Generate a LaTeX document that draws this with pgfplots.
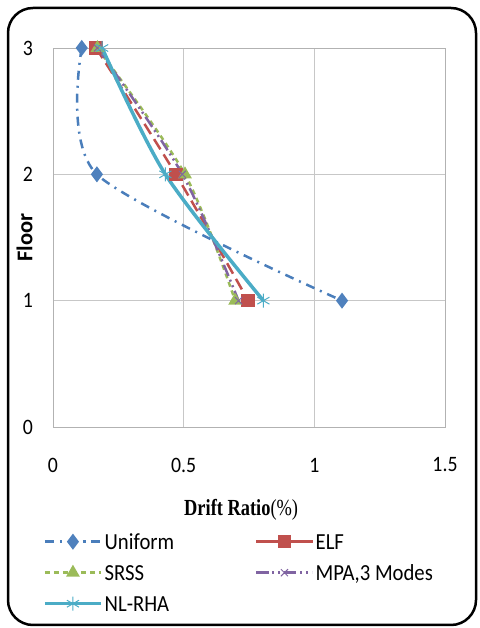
\documentclass[border=0pt]{standalone}
\usepackage{fontspec}
\usepackage{pgfplots}
\pgfplotsset{compat=1.18}
\setmainfont{Carlito}[FakeStretch=0.9]
\newfontfamily\floorfont{Carlito}
\newfontfamily\drfont{Liberation Serif}[FakeStretch=0.8]

\definecolor{cUni}{HTML}{4A7EBB}
\definecolor{cUniM}{HTML}{4F81BD}
\definecolor{cElf}{HTML}{C0504D}
\definecolor{cSrss}{HTML}{9BBB59}
\definecolor{cMpa}{HTML}{8064A2}
\definecolor{cNl}{HTML}{4BACC6}

\begin{document}
\begin{tikzpicture}
\useasboundingbox (0,0) rectangle (479pt,628pt);
\draw[line width=2.5pt, rounded corners=25pt] (8pt,3pt) rectangle (476pt,620pt);
\begin{axis}[
  at={(53pt,201pt)}, anchor=south west,
  scale only axis, width=392pt, height=379pt,
  xmin=0, xmax=1.5, ymin=0, ymax=3,
  xtick={0,0.5,1,1.5}, ytick={0,1,2,3},
  major tick length=0pt,
  grid=major,
  grid style={draw=black!22, line width=0.8pt},
  axis line style={draw=black!30, line width=0.8pt},
  clip=false,
  /pgf/number format/assume math mode=true,
  tick label style={font=\fontsize{22}{26}\selectfont, inner sep=0pt},
  xticklabel style={anchor=center, yshift=-38pt},
  yticklabel style={anchor=east, xshift=-20pt},
  xlabel={\drfont\bfseries Drift Ratio\mdseries(\%)},
  every axis x label/.style={at={(axis description cs:0.48,-0.219)}, anchor=center, font=\fontsize{23}{27}\selectfont},
  ylabel={Floor},
  every axis y label/.style={at={(axis description cs:-0.0727,0.5)}, rotate=90, anchor=center, font=\floorfont\bfseries\fontsize{22.5}{26}\selectfont},
  legend columns=2,
  legend cell align=left,
  legend style={at={(axis description cs:-0.0255,-0.2744)}, anchor=north west,
    draw=none, fill=none, inner sep=0pt,
    font=\fontsize{23}{27}\selectfont,
    nodes={inner sep=0pt, text height=18pt, text depth=3pt},
    row sep=10pt,
    /tikz/every odd column/.append style={column sep=2pt},
    /tikz/column 2/.style={column sep=81pt}},
  legend image code/.code={\draw[mark repeat=2,mark phase=2] plot coordinates {(0pt,0pt) (28pt,0pt) (56pt,0pt)};},
]
\addplot[smooth, tension=0.45, color=cUni, line width=2.5pt, dash pattern=on 9pt off 6pt on 2pt off 6pt,
  mark=diamond*, mark size=6pt, mark options={solid, fill=cUniM, draw=cUniM}]
  coordinates {(0.11,3) (0.168,2) (1.106,1)};
\addlegendentry{Uniform}
\addplot[smooth, color=cElf, line width=2.5pt, dash pattern=on 12pt off 6pt,
  mark=square*, mark size=5.5pt, mark options={solid, fill=cElf}, legend image post style={solid}]
  coordinates {(0.165,3) (0.47,2) (0.747,1)};
\addlegendentry{ELF}
\addplot[smooth, color=cSrss, line width=2.5pt, dash pattern=on 5pt off 4pt,
  mark=triangle*, mark size=5.5pt, mark options={solid, fill=cSrss}]
  coordinates {(0.17,3) (0.505,2) (0.697,1)};
\addlegendentry{SRSS}
\addplot[smooth, color=cMpa, line width=2.5pt, dash pattern=on 12pt off 4pt on 2pt off 4pt on 2pt off 4pt,
  mark=x, mark size=5pt, mark options={solid, line width=1pt}]
  coordinates {(0.17,3) (0.495,2) (0.71,1)};
\addlegendentry{MPA,3 Modes}
\addplot[smooth, color=cNl, line width=3.5pt,
  mark=asterisk, mark size=7pt, mark options={solid, line width=1pt}]
  coordinates {(0.188,3) (0.43,2) (0.805,1)};
\addlegendentry{NL-RHA}
\end{axis}
\end{tikzpicture}
\end{document}
